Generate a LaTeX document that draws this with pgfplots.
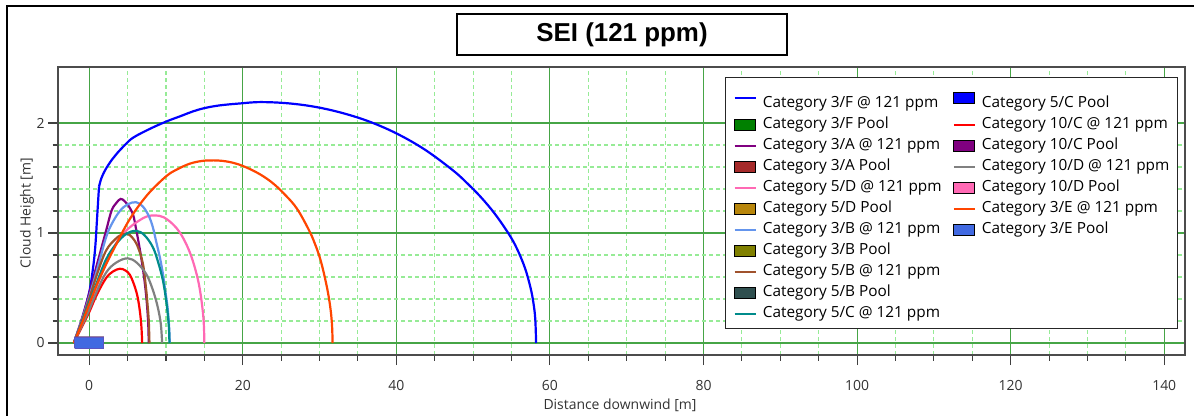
\documentclass[border=0pt]{standalone}
\usepackage{pgfplots}
\pgfplotsset{compat=1.18}
\usepackage{fontspec}
\setmainfont{Open Sans}
\newfontfamily\titlefont{Liberation Sans}
\definecolor{c3F}{RGB}{0,0,255}
\definecolor{c3FP}{RGB}{0,128,0}
\definecolor{c3A}{RGB}{128,0,128}
\definecolor{c3AP}{RGB}{165,42,42}
\definecolor{c5D}{RGB}{255,105,180}
\definecolor{c5DP}{RGB}{184,134,11}
\definecolor{c3B}{RGB}{100,149,237}
\definecolor{c3BP}{RGB}{128,128,0}
\definecolor{c5B}{RGB}{160,82,45}
\definecolor{c5BP}{RGB}{47,79,79}
\definecolor{c5C}{RGB}{0,139,139}
\definecolor{c5CP}{RGB}{0,0,255}
\definecolor{c10C}{RGB}{255,0,0}
\definecolor{c10CP}{RGB}{128,0,128}
\definecolor{c10D}{RGB}{128,128,128}
\definecolor{c10DP}{RGB}{255,105,180}
\definecolor{c3E}{RGB}{255,69,0}
\definecolor{c3EP}{RGB}{65,105,225}
\definecolor{majgrid}{RGB}{70,165,70}
\definecolor{mingrid}{RGB}{150,235,150}
\pgfplotsset{
  lleg/.style={legend image code/.code={\draw[##1,line width=2.4bp] (0bp,0bp) -- (21bp,0bp);}},
  pleg/.style={legend image code/.code={\fill[##1] (0bp,-5.5bp) rectangle (21bp,5.5bp);}},
  curve/.style={line width=2.2bp, smooth, tension=0.6, forget plot},
  pool/.style={line width=0.6bp, forget plot},
}
\begin{document}
\begin{tikzpicture}
\draw[black, line width=2.5bp] (7bp,-5bp) -- (7bp,410bp) -- (1200bp,410bp);
\node[draw=black, line width=1.2bp, fill=white, minimum width=330bp, minimum height=41bp, inner sep=0pt, font=\titlefont\bfseries\fontsize{26}{26}\selectfont] at (622bp,381.5bp) {SEI (121 ppm)};
\begin{axis}[
  scale only axis, width=1127bp, height=288bp, at={(58bp,61bp)}, anchor=south west,
  xmin=-4.06, xmax=142.7, ymin=-0.109, ymax=2.509,
  xtick={0,20,...,140}, ytick={0,1,2},
  minor x tick num=3, minor y tick num=4,
  tick align=outside, xtick pos=bottom, ytick pos=left,
  major tick length=10bp, minor tick length=5.5bp,
  grid=both,
  major grid style={draw=majgrid, line width=1.1bp},
  minor grid style={draw=mingrid, line width=1.1bp, dash pattern=on 4bp off 3bp},
  axis line style={draw=black!70, line width=1.3bp},
  tick style={draw=black!75, line width=1.1bp},
  tick label style={font=\fontsize{14}{14}\selectfont, text=black!80},
  xticklabel style={yshift=-12bp},
  /pgf/number format/assume math mode=true,
  xlabel={Distance downwind [m]}, ylabel={Cloud Height [m]},
  label style={font=\fontsize{14}{14}\selectfont, text=black!80},
  xlabel style={at={(axis description cs:0.4987,-0.1736)}, anchor=center},
  ylabel style={at={(axis description cs:-0.0275,0.493)}, anchor=center},
  legend columns=2, legend cell align=left,
  legend style={at={(0.5918,0.9653)}, anchor=north west, draw=black!85, line width=1.2bp,
    font=\fontsize{15.4}{15.4}\selectfont, inner xsep=8bp, inner ysep=7.5bp,
    row sep=6.5bp, column sep=6bp,
    /tikz/every even column/.append style={column sep=11bp},
    nodes={inner sep=0pt, text height=11bp, text depth=3.5bp}},
]
% Category 3/F @ 121 ppm
\addplot[curve, c3F] coordinates {(-2,0) (-1,0.2) (0,0.46) (0.5,0.68) (0.8,0.88) (1.05,1.16) (1.28,1.42)};
\addplot[curve, c3F] coordinates {(1.28,1.42) (1.6,1.5) (2.15,1.58) (3,1.67) (3.7,1.73) (4.8,1.81) (5.8,1.87) (8,1.95) (10.1,2.015) (12,2.065) (13.5,2.105) (15,2.135) (17,2.16) (19.7,2.178) (22.3,2.19) (25.89,2.179) (29.48,2.146) (33.07,2.089) (36.66,2.008) (40.25,1.897) (43.84,1.752) (47.43,1.566) (49.23,1.452) (51.02,1.325) (52.82,1.175) (54.61,0.995) (55.69,0.86) (56.76,0.68) (57.48,0.5) (57.84,0.37) (58.09,0.22) (58.2,0)};
% Category 3/A @ 121 ppm
\addplot[curve, c3A] coordinates {(-2,0) (-1,0.21) (0,0.45) (1,0.71) (2.2,1.02) (2.9,1.2) (3.5,1.27) (4.1,1.31) (4.6,1.29) (5.0,1.26) (5.7,1.17) (6.1,1.04) (6.55,0.87) (6.9,0.72) (7.2,0.57) (7.45,0.41) (7.62,0.26) (7.72,0.12) (7.75,0)};
% Category 5/D @ 121 ppm
\addplot[curve, c5D] coordinates {(-2,0) (-1,0.17) (0,0.34) (1,0.52) (2.2,0.72) (3,0.84) (4.0,0.96) (5.26,1.05) (6.55,1.115) (7.5,1.15) (8.6,1.16) (9.7,1.143) (10.9,1.08) (11.8,1.005) (12.6,0.905) (13.3,0.788) (13.9,0.65) (14.3,0.53) (14.6,0.40) (14.85,0.25) (14.95,0.14) (15.0,0)};
% Category 3/B @ 121 ppm
\addplot[curve, c3B] coordinates {(-2,0) (-1,0.2) (0,0.42) (1,0.66) (2.2,0.96) (3,1.09) (4.0,1.2) (5,1.26) (6.1,1.28) (7,1.24) (7.8,1.15) (8.3,1.05) (8.7,0.93) (9.2,0.78) (9.6,0.63) (9.9,0.48) (10.2,0.33) (10.4,0.16) (10.5,0)};
% Category 5/B @ 121 ppm
\addplot[curve, c5B] coordinates {(-2,0) (-1,0.19) (0,0.4) (1,0.62) (2.2,0.84) (3.5,0.95) (4.3,0.985) (5.0,0.99) (5.6,0.96) (6.3,0.88) (7.0,0.72) (7.4,0.5) (7.6,0.35) (7.76,0.2) (7.85,0)};
% Category 5/C @ 121 ppm
\addplot[curve, c5C] coordinates {(-2,0) (-1,0.18) (0,0.37) (1,0.55) (2.2,0.76) (3.5,0.9) (4.8,0.99) (6.1,1.02) (7.2,0.98) (8.3,0.87) (9.0,0.73) (9.6,0.57) (10.0,0.4) (10.25,0.25) (10.4,0.12) (10.45,0)};
% Category 10/C @ 121 ppm
\addplot[curve, c10C] coordinates {(-2,0) (-1,0.14) (0,0.28) (1,0.44) (2.2,0.59) (3.1,0.65) (4.0,0.675) (4.7,0.66) (5.3,0.62) (5.9,0.52) (6.3,0.42) (6.6,0.29) (6.8,0.15) (6.9,0)};
% Category 10/D @ 121 ppm
\addplot[curve, c10D] coordinates {(-2,0) (-1,0.15) (0,0.3) (1,0.47) (2.2,0.64) (3.5,0.73) (5.0,0.77) (6.2,0.73) (7.4,0.63) (8.1,0.52) (8.7,0.39) (9.1,0.27) (9.35,0.16) (9.5,0)};
% Category 3/E @ 121 ppm
\addplot[curve, c3E] coordinates {(-2,0) (-1,0.17) (0,0.35) (1,0.53) (2.3,0.73) (3.4,0.88) (4.5,1.03) (5.5,1.15) (6.6,1.26) (8,1.38) (10.1,1.52) (11.5,1.58) (13.1,1.63) (14.7,1.655) (16.2,1.66) (17.75,1.652) (19.3,1.627) (20.85,1.584) (22.4,1.527) (23.95,1.451) (25.5,1.348) (27.05,1.222) (28.6,1.029) (29.38,0.905) (30.15,0.749) (30.93,0.518) (31.39,0.33) (31.62,0.166) (31.7,0)};
% Pools
\addplot[pool, fill=c3FP, draw=c3FP] coordinates {(-1.9,-0.045) (1.9,-0.045) (1.9,0.055) (-1.9,0.055) (-1.9,-0.045)};
\addplot[pool, fill=c3AP, draw=c3AP] coordinates {(-1.9,-0.045) (1.9,-0.045) (1.9,0.055) (-1.9,0.055) (-1.9,-0.045)};
\addplot[pool, fill=c5DP, draw=c5DP] coordinates {(-1.9,-0.045) (1.9,-0.045) (1.9,0.055) (-1.9,0.055) (-1.9,-0.045)};
\addplot[pool, fill=c3BP, draw=c3BP] coordinates {(-1.9,-0.045) (1.9,-0.045) (1.9,0.055) (-1.9,0.055) (-1.9,-0.045)};
\addplot[pool, fill=c5BP, draw=c5BP] coordinates {(-1.9,-0.045) (1.9,-0.045) (1.9,0.055) (-1.9,0.055) (-1.9,-0.045)};
\addplot[pool, fill=c5CP, draw=c5CP] coordinates {(-1.9,-0.045) (1.9,-0.045) (1.9,0.055) (-1.9,0.055) (-1.9,-0.045)};
\addplot[pool, fill=c10CP, draw=c10CP] coordinates {(-1.9,-0.045) (1.9,-0.045) (1.9,0.055) (-1.9,0.055) (-1.9,-0.045)};
\addplot[pool, fill=c10DP, draw=c10DP] coordinates {(-1.9,-0.045) (1.9,-0.045) (1.9,0.055) (-1.9,0.055) (-1.9,-0.045)};
\addplot[pool, fill=c3EP, draw=c3EP!80!purple] coordinates {(-1.9,-0.045) (1.9,-0.045) (1.9,0.055) (-1.9,0.055) (-1.9,-0.045)};
% Legend (two columns, filled column by column)
\addlegendimage{lleg, draw=c3F}\addlegendentry[text height=22.5bp]{Category 3/F @ 121 ppm}
\addlegendimage{pleg, fill=c5CP}\addlegendentry[text height=22.5bp]{Category 5/C Pool}
\addlegendimage{pleg, fill=c3FP}\addlegendentry{Category 3/F Pool}
\addlegendimage{lleg, draw=c10C}\addlegendentry{Category 10/C @ 121 ppm}
\addlegendimage{lleg, draw=c3A}\addlegendentry{Category 3/A @ 121 ppm}
\addlegendimage{pleg, fill=c10CP}\addlegendentry{Category 10/C Pool}
\addlegendimage{pleg, fill=c3AP}\addlegendentry{Category 3/A Pool}
\addlegendimage{lleg, draw=c10D}\addlegendentry{Category 10/D @ 121 ppm}
\addlegendimage{lleg, draw=c5D}\addlegendentry{Category 5/D @ 121 ppm}
\addlegendimage{pleg, fill=c10DP}\addlegendentry{Category 10/D Pool}
\addlegendimage{pleg, fill=c5DP}\addlegendentry{Category 5/D Pool}
\addlegendimage{lleg, draw=c3E}\addlegendentry{Category 3/E @ 121 ppm}
\addlegendimage{lleg, draw=c3B}\addlegendentry{Category 3/B @ 121 ppm}
\addlegendimage{pleg, fill=c3EP}\addlegendentry{Category 3/E Pool}
\addlegendimage{pleg, fill=c3BP}\addlegendentry{Category 3/B Pool}
\addlegendimage{empty legend}\addlegendentry{}
\addlegendimage{lleg, draw=c5B}\addlegendentry{Category 5/B @ 121 ppm}
\addlegendimage{empty legend}\addlegendentry{}
\addlegendimage{pleg, fill=c5BP}\addlegendentry{Category 5/B Pool}
\addlegendimage{empty legend}\addlegendentry{}
\addlegendimage{lleg, draw=c5C}\addlegendentry{Category 5/C @ 121 ppm}
\end{axis}
\pgfresetboundingbox
\path[use as bounding box] (0bp,0bp) rectangle (1194bp,416bp);
\end{tikzpicture}
\end{document}
